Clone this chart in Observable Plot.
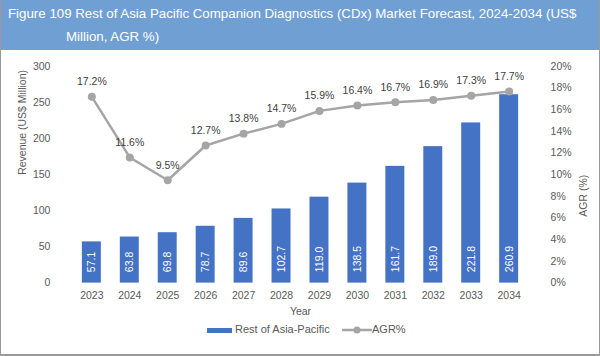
<!DOCTYPE html>
<html>
<head>
<meta charset="utf-8">
<script src="https://cdn.jsdelivr.net/npm/d3@7"></script>
<script src="https://cdn.jsdelivr.net/npm/@observablehq/plot@0.6"></script>
<style>
  html, body { margin: 0; padding: 0; background: #fff; }
  #wrap { position: relative; width: 598px; height: 354px; border-left: 1px solid #9a9a9a; border-right: 1px solid #9a9a9a; border-bottom: 2px solid #9a9a9a; font-family: "Liberation Sans", Arial, sans-serif; overflow: hidden; }
  #title { height: 50px; background: #6f9fd3; color: #fff; font-size: 13.3px; line-height: 23px; padding: 2px 0 0 65px; text-indent: -58px; box-sizing: border-box; white-space: nowrap; }
  #chart { position: absolute; left: -1px; top: 50px; }
  #legend { position: absolute; top: 323px; left: 0; width: 598px; font-size: 11px; color: #595959; }
  .lg { position: absolute; top: 0; white-space: nowrap; }
</style>
</head>
<body>
<div id="wrap">
  <div id="title">Figure 109 Rest of Asia Pacific Companion Diagnostics (CDx) Market Forecast, 2024-2034 (US$<br>Million, AGR %)</div>
  <div id="chart"></div>
  <div id="legend">
    <div class="lg" style="left:206px;"><span style="display:inline-block;width:25px;height:5px;background:#4472c4;vertical-align:middle;margin-right:3px;"></span>Rest of Asia-Pacific</div>
    <div class="lg" style="left:341px;"><svg width="30" height="10" style="vertical-align:middle;"><line x1="0" y1="5" x2="30" y2="5" stroke="#a5a5a5" stroke-width="2.5"/><circle cx="15" cy="5" r="3.5" fill="#a5a5a5"/></svg>AGR%</div>
  </div>
</div>
<script>
const years = ["2023","2024","2025","2026","2027","2028","2029","2030","2031","2032","2033","2034"];
const revenue = [57.1, 63.8, 69.8, 78.7, 89.6, 102.7, 119.0, 138.5, 161.7, 189.0, 221.8, 260.9];
const agr = [17.2, 11.6, 9.5, 12.7, 13.8, 14.7, 15.9, 16.4, 16.7, 16.9, 17.3, 17.7];
const leftTicks = [0, 50, 100, 150, 200, 250, 300];
const rightTicks = [0, 2, 4, 6, 8, 10, 12, 14, 16, 18, 20];

const k = 300 / 20; // AGR scaled onto the revenue axis
const rows = years.map((y, i) => ({year: y, rev: revenue[i], agr: agr[i], agrS: agr[i] * k}));
const fs = 10.5;

const chart = Plot.plot({
  width: 600,
  height: 270,
  marginTop: 16,
  marginBottom: 37,
  marginLeft: 59,
  marginRight: 58,
  style: {fontFamily: "Liberation Sans, Arial, sans-serif", fontSize: fs + "px", color: "#595959", background: "transparent"},
  x: {domain: years, padding: 0.5, label: null},
  y: {domain: [0, 300], label: null},
  marks: [
    Plot.barY(rows, {x: "year", y: "rev", fill: "#4472c4"}),
    Plot.ruleY([0], {stroke: "#d9d9d9", strokeWidth: 1.5, x1: 59, x2: 543}),
    Plot.text(rows, {x: "year", y: 0, text: d => d.rev.toFixed(1), rotate: -90, textAnchor: "start", dy: -11, fill: "white", fontSize: fs}),
    Plot.line(rows, {x: "year", y: "agrS", stroke: "#a5a5a5", strokeWidth: 2.5}),
    Plot.dot(rows, {x: "year", y: "agrS", fill: "#a5a5a5", r: 4}),
    Plot.text(rows, {x: "year", y: "agrS", text: d => d.agr.toFixed(1) + "%", dy: -15, fill: "#404040", fontSize: fs}),
    Plot.axisX({tickSize: 0, tickPadding: 8, fontSize: fs, fill: "#595959", label: null}),
    Plot.axisY({anchor: "left", ticks: leftTicks, tickSize: 0, tickPadding: 9, fontSize: fs, fill: "#595959", label: null}),
    Plot.axisY({anchor: "right", ticks: rightTicks.map(t => t * k), tickFormat: d => (d / k) + "%", tickSize: 0, tickPadding: 9, fontSize: fs, fill: "#595959", label: null}),
    Plot.text(["Revenue (US$ Million)"], {frameAnchor: "left", dx: -37, rotate: -90, fontSize: fs, fill: "#595959"}),
    Plot.text(["AGR (%)"], {frameAnchor: "right", dx: 42, rotate: -90, fontSize: fs, fill: "#595959"}),
    Plot.text(["Year"], {frameAnchor: "bottom", dy: 32, fontSize: fs, fill: "#595959"})
  ]
});
document.getElementById("chart").appendChild(chart);
</script>
</body>
</html>
